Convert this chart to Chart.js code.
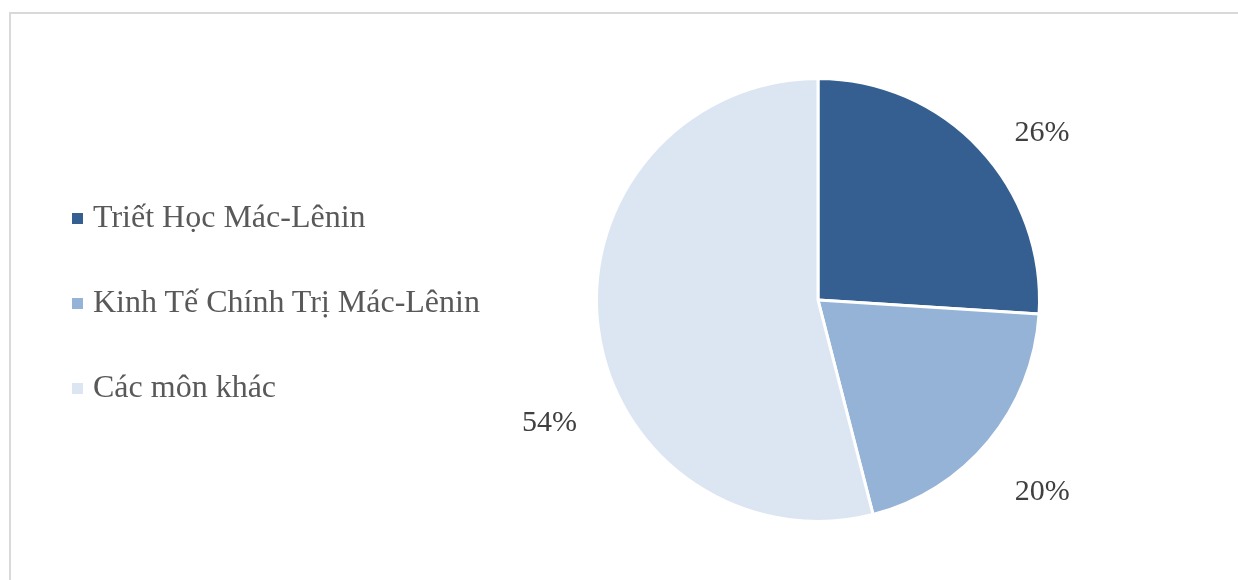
<!DOCTYPE html>
<html>
<head>
<meta charset="utf-8">
<script src="https://cdn.jsdelivr.net/npm/chart.js@4.4.1/dist/chart.umd.min.js"></script>
<style>
  html, body { margin: 0; padding: 0; background: #fff; overflow: hidden; }
  #wrap { position: relative; width: 1238px; height: 580px; }
  #frame {
    position: absolute; left: 9px; top: 12px; width: 1240px; height: 600px;
    border: 2px solid #d9d9d9; box-sizing: border-box;
  }
  #pie { position: absolute; left: 0; top: 0; }
  #legend {
    position: absolute; left: 72px; top: 196px;
    font-family: "Liberation Serif", "Times New Roman", serif;
    font-size: 32px; color: #595959;
  }
  .item { height: 40px; line-height: 40px; margin-bottom: 45px; white-space: nowrap; }
  .sw { display: inline-block; width: 11px; height: 11px; margin-right: 10px; vertical-align: 3px; }
</style>
</head>
<body>
<div id="wrap">
  <div id="frame"></div>
  <canvas id="pie" width="1238" height="580"></canvas>
  <div id="legend"></div>
</div>
<script>
// Tỷ lệ các môn học
const subjects = ["Triết Học Mác-Lênin", "Kinh Tế Chính Trị Mác-Lênin", "Các môn khác"];
const shares = [26, 20, 54];
const sliceColors = ["#355f91", "#95b3d7", "#dce6f2"];

// legend bên trái
const legendEl = document.getElementById("legend");
subjects.forEach((name, i) => {
  const row = document.createElement("div");
  row.className = "item";
  row.innerHTML = `<span class="sw" style="background:${sliceColors[i]}"></span>${name}`;
  legendEl.appendChild(row);
});

// nhãn phần trăm đặt bên ngoài mỗi lát
const outsideLabels = {
  id: "outsideLabels",
  afterDatasetsDraw(chart) {
    const ctx = chart.ctx;
    const meta = chart.getDatasetMeta(0);
    const nudge = [6.5, 1, -17.5]; // độ lệch góc (độ) để tránh chồng lên nhau
    const gap = [58, 74, 74];
    ctx.save();
    ctx.font = '30px "Liberation Serif", "Times New Roman", serif';
    ctx.fillStyle = "#404040";
    ctx.textAlign = "center";
    ctx.textBaseline = "middle";
    meta.data.forEach((arc, i) => {
      const mid = (arc.startAngle + arc.endAngle) / 2 + nudge[i] * Math.PI / 180;
      const d = arc.outerRadius + gap[i];
      const x = arc.x + Math.cos(mid) * d;
      const y = arc.y + Math.sin(mid) * d;
      ctx.fillText(shares[i] + "%", x, y);
    });
    ctx.restore();
  }
};

new Chart(document.getElementById("pie"), {
  type: "pie",
  data: {
    labels: subjects,
    datasets: [{
      data: shares,
      backgroundColor: sliceColors,
      borderColor: "#ffffff",
      borderWidth: 3
    }]
  },
  options: {
    responsive: false,
    animation: false,
    layout: { padding: { left: 595, right: 197, top: 77, bottom: 57 } },
    plugins: {
      legend: { display: false },
      tooltip: { enabled: false }
    }
  },
  plugins: [outsideLabels]
});
</script>
</body>
</html>
